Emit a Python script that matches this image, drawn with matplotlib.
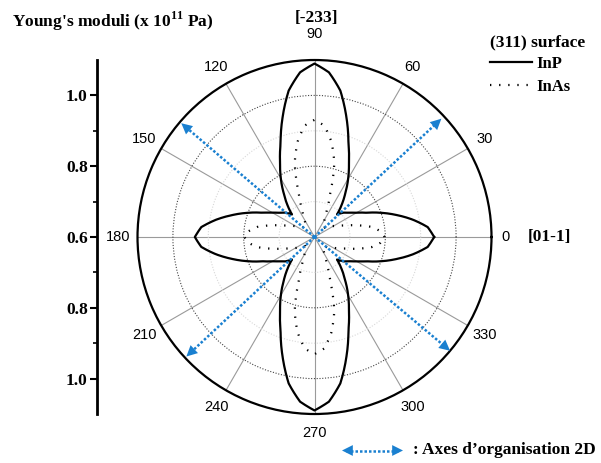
import numpy as np
import matplotlib
matplotlib.use("Agg")
import matplotlib.pyplot as plt
from matplotlib.lines import Line2D
from matplotlib.patches import FancyArrowPatch
from matplotlib.transforms import ScaledTranslation

plt.rcParams['mathtext.fontset'] = 'custom'
plt.rcParams['mathtext.rm'] = 'Liberation Serif:bold'
plt.rcParams['mathtext.bf'] = 'Liberation Serif:bold'

# ---------------- data ----------------
angles_deg = np.arange(0, 361, 5)
inp_values = [
    0.938, 0.921, 0.882, 0.840, 0.800, 0.762, 0.737, 0.719, 0.707, 0.690,
    0.720, 0.752, 0.790, 0.830, 0.880, 0.949, 1.020, 1.067, 1.090,
    1.067, 1.020, 0.949, 0.880, 0.830, 0.790, 0.752, 0.720, 0.690,
    0.707, 0.719, 0.737, 0.762, 0.800, 0.840, 0.882, 0.921, 0.938,
    0.921, 0.882, 0.840, 0.800, 0.762, 0.737, 0.719, 0.707, 0.690,
    0.720, 0.752, 0.790, 0.830, 0.880, 0.949, 1.020, 1.067, 1.090,
    1.067, 1.020, 0.949, 0.880, 0.830, 0.790, 0.752, 0.720, 0.690,
    0.707, 0.719, 0.737, 0.762, 0.800, 0.840, 0.882, 0.921, 0.938,
]
inas_values = [
    0.798, 0.787, 0.764, 0.727, 0.695, 0.675, 0.662, 0.652, 0.644, 0.636,
    0.638, 0.643, 0.656, 0.681, 0.728, 0.816, 0.874, 0.916, 0.931,
    0.916, 0.874, 0.816, 0.728, 0.681, 0.656, 0.643, 0.638, 0.636,
    0.644, 0.652, 0.662, 0.675, 0.695, 0.727, 0.764, 0.787, 0.798,
    0.787, 0.764, 0.727, 0.695, 0.675, 0.662, 0.652, 0.644, 0.636,
    0.638, 0.643, 0.656, 0.681, 0.728, 0.816, 0.874, 0.916, 0.931,
    0.916, 0.874, 0.816, 0.728, 0.681, 0.656, 0.643, 0.638, 0.636,
    0.644, 0.652, 0.662, 0.675, 0.695, 0.727, 0.764, 0.787, 0.798,
]
theta_ticks = list(range(0, 360, 30))
theta_labels = [str(t) for t in theta_ticks]
left_tick_pos = [0.4, 0.2, 0.0, -0.2, -0.4]
left_tick_labels = ["1.0", "0.8", "0.6", "0.8", "1.0"]
arrow_deg = [43, 139.5, 223, 320]
arrow_r = [1.09, 1.095, 1.095, 1.10]

BLUE = '#1a80d0'
SERIF = 'Liberation Serif'

fig = plt.figure(figsize=(6.01, 4.63), dpi=100)

# ---------------- polar axes ----------------
ax = fig.add_axes([0.2288, 0.1058, 0.589, 0.7646], projection='polar')
th = np.deg2rad(angles_deg)
l1, = ax.plot(th, inp_values, color='black', lw=1.6, label='InP', zorder=4)
l2, = ax.plot(th, inas_values, color='black', lw=1.6, ls=(0, (0.6, 3.5)), label='InAs', zorder=4)
for ln in (l1, l2):
    ln.get_path()._interpolation_steps = 20

ax.set_ylim(0.6, 1.1)
ax.set_yticks([0.8, 1.0])
ax.set_yticks([0.7, 0.9], minor=True)
ax.set_yticklabels([])
ax.tick_params(axis='y', which='both', length=0)
ax.yaxis.grid(True, which='major', color='#444444', lw=0.8, ls=(0, (1, 1.5)))
ax.yaxis.grid(True, which='minor', color='#d8d8d8', lw=0.8, ls=(0, (1, 1.5)))

ax.set_xticks(np.deg2rad(theta_ticks))
ax.set_xticklabels(theta_labels, fontfamily='Liberation Sans', fontsize=10.5)
ax.set_xticks(np.deg2rad(np.arange(15, 360, 30)), minor=True)
ax.tick_params(axis='x', which='major', direction='in', length=5, width=1.2, pad=7)
ax.tick_params(axis='x', which='minor', direction='in', length=3, width=1.0)
ax.xaxis.grid(True, which='major', color='#9a9a9a', lw=0.8, ls='-')
ax.spines['polar'].set_linewidth(1.6)

# small label nudges seen in the reference (0 slightly in, 90 slightly up)
mticks = ax.xaxis.get_major_ticks()
for idx, (ox, oy) in {0: (-5, 0), 3: (0, 7)}.items():
    lab = mticks[idx].label1
    lab.set_transform(lab.get_transform() + ScaledTranslation(ox / 100, oy / 100, fig.dpi_scale_trans))

for a, r in zip(arrow_deg, arrow_r):
    t = np.deg2rad(a)
    ax.plot([t, t], [0.6, r - 0.02], color=BLUE, lw=1.8, ls=(0, (1, 0.8)), zorder=5,
            clip_on=False)
    ax.annotate('', xy=(t, r), xytext=(t, r - 0.03),
                arrowprops=dict(arrowstyle='-|>,head_length=0.6,head_width=0.3',
                                lw=0, color=BLUE, shrinkA=0, shrinkB=0,
                                mutation_scale=13),
                annotation_clip=False, zorder=6)

# ---------------- left scale axis ----------------
ax2 = fig.add_axes([0.1622, 0.1058, 0.0001, 0.7646])
ax2.set_ylim(-0.5, 0.5)
ax2.set_xticks([])
for s in ['top', 'right', 'bottom']:
    ax2.spines[s].set_visible(False)
ax2.spines['left'].set_linewidth(2.0)
ax2.set_yticks(left_tick_pos)
ax2.set_yticklabels(left_tick_labels, fontfamily=SERIF, fontweight='bold', fontsize=12.5)
ax2.set_yticks([0.3, 0.1, -0.1, -0.3], minor=True)
ax2.tick_params(axis='y', which='major', direction='out', length=5, width=1.5, pad=2)
ax2.tick_params(axis='y', which='minor', direction='out', length=3, width=1.2)
ax2.patch.set_visible(False)

# ---------------- texts ----------------
fig.text(12 / 601, 1 - 21 / 463, r"Young's moduli (x 10$^{11}$ Pa)", fontfamily=SERIF,
         fontweight='bold', fontsize=12.5, ha='left', va='center')
fig.text(316 / 601, 1 - 18 / 463, "[-233]", fontfamily=SERIF, fontweight='bold',
         fontsize=12.5, ha='center', va='center')
fig.text(549 / 601, 1 - 237 / 463, "[01-1]", fontfamily=SERIF, fontweight='bold',
         fontsize=12.5, ha='center', va='center')

leg = fig.legend(loc='upper left', bbox_to_anchor=(490 / 601, 1 - 34 / 463),
                 frameon=False, title='(311) surface', alignment='left',
                 prop=dict(family=SERIF, weight='bold', size=12),
                 title_fontproperties=dict(family=SERIF, weight='bold', size=12.5),
                 handlelength=2.5, handletextpad=0.3, labelspacing=0.38,
                 borderpad=0, borderaxespad=0)

# bottom legend for arrows
yb = 1 - 450.5 / 463
fig.add_artist(Line2D([346 / 601, 399 / 601], [yb, yb], transform=fig.transFigure,
                      color=BLUE, lw=1.8, ls=(0, (1, 0.8))))
for x0, x1 in [(352 / 601, 342 / 601), (393 / 601, 403 / 601)]:
    fig.add_artist(FancyArrowPatch((x0, yb), (x1, yb), transform=fig.transFigure,
                                   arrowstyle='-|>,head_length=0.6,head_width=0.3',
                                   mutation_scale=13, lw=0, color=BLUE,
                                   shrinkA=0, shrinkB=0))
fig.text(413 / 601, yb, ": Axes d\u2019organisation 2D", fontfamily=SERIF,
         fontweight='bold', fontsize=12.5, ha='left', va='center')

fig.savefig('out.png', dpi=100)
